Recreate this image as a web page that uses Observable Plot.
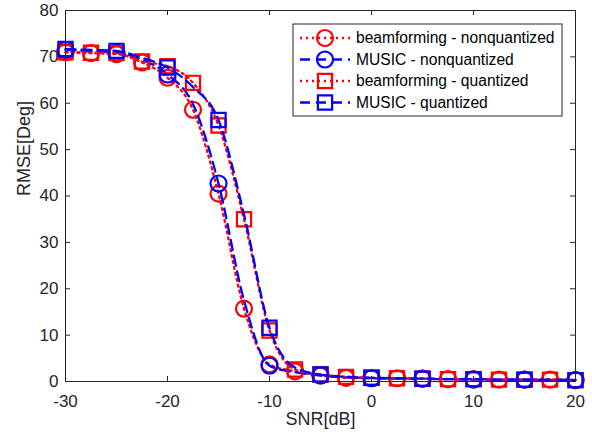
<!DOCTYPE html>
<html>
<head>
<meta charset="utf-8">
<script src="https://cdn.jsdelivr.net/npm/d3@7"></script>
<script src="https://cdn.jsdelivr.net/npm/@observablehq/plot@0.6"></script>
<style>
  html, body { margin: 0; padding: 0; background: #fff; }
</style>
</head>
<body>
<div id="chart"></div>
<script>
// ---- data ----
const snr = [-30, -27.5, -25, -22.5, -20, -17.5, -15, -12.5, -10, -7.5, -5, -2.5, 0, 2.5, 5, 7.5, 10, 12.5, 15, 17.5, 20];
const beamNonQ  = [71.0, 70.8, 70.6, 68.8, 65.5, 58.6, 40.5, 15.7, 3.7, 2.2, 1.3, 0.8, 0.7, 0.7, 0.6, 0.5, 0.5, 0.4, 0.4, 0.4, 0.3];
const musicNonQ = [71.5, 71.2, 70.9, 69.4, 66.2, 59.8, 42.7, 17.5, 3.4, 2.0, 1.3, 0.9, 0.7, 0.6, 0.6, 0.5, 0.4, 0.4, 0.4, 0.3, 0.3];
const beamQ     = [71.0, 70.9, 70.8, 69.0, 68.0, 64.4, 55.2, 35.0, 11.0, 2.6, 1.5, 1.0, 0.8, 0.7, 0.6, 0.5, 0.5, 0.4, 0.4, 0.4, 0.3];
const musicQ    = [71.7, 71.5, 71.3, 69.8, 67.7, 63.5, 56.4, 36.0, 11.6, 3.0, 1.5, 1.0, 0.8, 0.7, 0.6, 0.5, 0.5, 0.4, 0.4, 0.4, 0.3];
const seriesNames = ["beamforming - nonquantized", "MUSIC - nonquantized", "beamforming - quantized", "MUSIC - quantized"];
const xTicks = [-30, -20, -10, 0, 10, 20];
const yTicks = [0, 10, 20, 30, 40, 50, 60, 70, 80];
const xLabel = "SNR[dB]";
const yLabel = "RMSE[Deg]";

const RED = "#ff0000", BLUE = "#0000ff", INK = "#262626";
const series = [
  {name: seriesNames[0], values: beamNonQ,  color: RED,  dash: "2,4", symbol: "circle", markEvery: 2.5},
  {name: seriesNames[1], values: musicNonQ, color: BLUE, dash: "10,6", symbol: "circle", markEvery: 5},
  {name: seriesNames[2], values: beamQ,     color: RED,  dash: "2,4", symbol: "square", markEvery: 2.5},
  {name: seriesNames[3], values: musicQ,    color: BLUE, dash: "10,6", symbol: "square", markEvery: 5}
];

const W = 592, H = 437;
const mL = 65, mR = 17, mT = 10, mB = 56;
const innerW = W - mL - mR, innerH = H - mT - mB;
const tick = 5;

const marks = [];
for (const s of series) {
  const rows = snr.map((x, i) => ({x, y: s.values[i]}));
  const markRows = rows.filter(d => Math.abs(d.x / s.markEvery - Math.round(d.x / s.markEvery)) < 1e-9);
  marks.push(Plot.line(rows, {x: "x", y: "y", stroke: s.color, strokeWidth: 2.3, strokeDasharray: s.dash, curve: "monotone-x"}));
  marks.push(Plot.dot(markRows, {x: "x", y: "y", r: 8, symbol: s.symbol, stroke: s.color, strokeWidth: 2.2, fill: "none"}));
}

const chart = Plot.plot({
  width: W, height: H,
  marginLeft: mL, marginRight: mR, marginTop: mT, marginBottom: mB,
  style: {fontFamily: "'Liberation Sans', Arial, sans-serif", fontSize: "17px", color: INK, background: "#fff"},
  x: {domain: [-30, 20]},
  y: {domain: [0, 80]},
  marks: [
    Plot.axisX({ticks: xTicks, tickSize: 0, tickPadding: 13, label: null, tickFormat: d => String(d), fontSize: 17}),
    Plot.axisY({ticks: yTicks, tickSize: 0, tickPadding: 7, label: null, tickFormat: d => String(d), fontSize: 17}),
    Plot.text([xLabel], {text: d => d, frameAnchor: "bottom", dy: 43, fontSize: 18, fill: INK}),
    Plot.text([yLabel], {text: d => d, frameAnchor: "left", dx: -41, rotate: -90, fontSize: 18, fill: INK}),
    Plot.tickX(xTicks, {x: d => d, stroke: INK, insetTop: innerH - tick}),
    Plot.tickX(xTicks, {x: d => d, stroke: INK, insetBottom: innerH - tick}),
    Plot.tickY(yTicks, {y: d => d, stroke: INK, insetRight: innerW - tick}),
    Plot.tickY(yTicks, {y: d => d, stroke: INK, insetLeft: innerW - tick}),
    ...marks,
    Plot.frame({stroke: INK, strokeWidth: 1})
  ]
});

// ---- legend ----
const svg = d3.select(chart);
const lg = svg.append("g").attr("class", "legend").attr("text-anchor", "start");
const box = {x: 293, y: 24, w: 269, h: 92};
lg.append("rect").attr("x", box.x).attr("y", box.y).attr("width", box.w).attr("height", box.h)
  .attr("fill", "#fff").attr("stroke", INK).attr("stroke-width", 1);
series.forEach((s, i) => {
  const cy = 38 + i * 21.5;
  lg.append("line").attr("x1", 300).attr("x2", 350).attr("y1", cy).attr("y2", cy)
    .attr("stroke", s.color).attr("stroke-width", 2.3).attr("stroke-dasharray", s.dash);
  const sym = d3.symbol(s.symbol === "circle" ? d3.symbolCircle : d3.symbolSquare, 64 * Math.PI);
  lg.append("path").attr("d", sym()).attr("transform", `translate(325,${cy})`)
    .attr("fill", "none").attr("stroke", s.color).attr("stroke-width", 2.2);
  lg.append("text").attr("x", 356).attr("y", cy).attr("dy", "0.35em")
    .attr("font-size", 15.6).attr("fill", "#000").text(s.name);
});

document.getElementById("chart").appendChild(chart);
</script>
</body>
</html>
